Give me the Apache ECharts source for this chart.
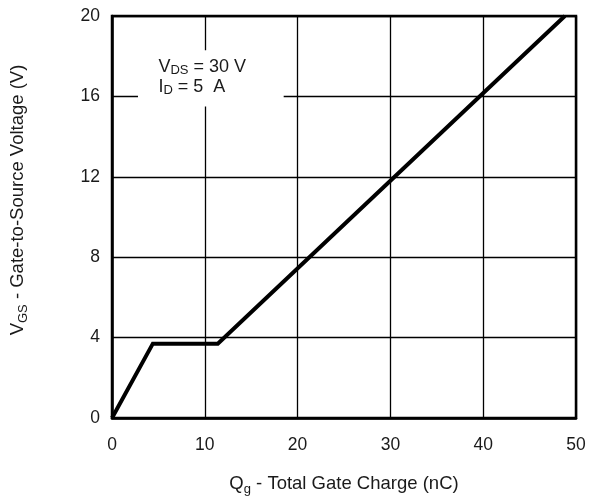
<!DOCTYPE html>
<html>
<head>
<meta charset="utf-8">
<script src="https://cdn.jsdelivr.net/npm/echarts@6/dist/echarts.min.js"></script>
<style>html,body{margin:0;padding:0;background:#fff;}#c{width:589px;height:499px;}</style>
</head>
<body>
<div id="c"></div>
<script>
// Data
const charge = [0, 4.4, 11.4, 48.8];       // Qg (nC)
const vgs    = [0, 3.7, 3.7, 20];          // VGS (V)
const xTicks = [0, 10, 20, 30, 40, 50];
const yTicks = [0, 4, 8, 12, 16, 20];
const noteLine1 = ['V', 'DS', ' = 30 V'];
const noteLine2 = ['I', 'D', ' = 5  A'];

const FONT = '"Liberation Sans", Arial, Helvetica, sans-serif';
const TXT = '#1a1a1a';

const chart = echarts.init(document.getElementById('c'), null, {renderer: 'canvas'});
const points = charge.map((q, i) => [q, vgs[i]]);

chart.setOption({
  animation: false,
  backgroundColor: '#fff',
  grid: {left: 112, right: 13, top: 16, bottom: 81, containLabel: false, outerBoundsMode: 'none',
         show: true, borderColor: '#000', borderWidth: 2.5, backgroundColor: 'transparent'},
  xAxis: {
    type: 'value', min: 0, max: 50, interval: 10,
    axisLine: {show: true, onZero: false, lineStyle: {color: '#000', width: 2.5}},
    axisTick: {show: false},
    splitLine: {show: true, lineStyle: {color: '#000', width: 1.3}},
    axisLabel: {margin: 18, color: TXT, fontSize: 17.5, fontFamily: FONT},
    name: '{a|Q}{s|g}{a| - Total Gate Charge (nC)}',
    nameLocation: 'middle', nameGap: 54,
    nameTextStyle: {
      rich: {
        a: {fontSize: 18.5, fontFamily: FONT, color: TXT, lineHeight: 24, verticalAlign: 'middle'},
        s: {fontSize: 13, fontFamily: FONT, color: TXT, lineHeight: 13, verticalAlign: 'bottom'}
      }
    }
  },
  yAxis: {
    type: 'value', min: 0, max: 20, interval: 4,
    axisLine: {show: true, onZero: false, lineStyle: {color: '#000', width: 2.5}},
    axisTick: {show: false},
    splitLine: {show: true, lineStyle: {color: '#000', width: 1.3}},
    axisLabel: {margin: 12, color: TXT, fontSize: 17.5, fontFamily: FONT},
    name: '{a|V}{s|GS}{a| - Gate-to-Source Voltage (V)}',
    nameLocation: 'middle', nameGap: 82, nameRotate: 90,
    nameTextStyle: {
      padding: [0, 0, 0, 34],
      rich: {
        a: {fontSize: 18.5, fontFamily: FONT, color: TXT, lineHeight: 24, verticalAlign: 'middle'},
        s: {fontSize: 13, fontFamily: FONT, color: TXT, lineHeight: 13, verticalAlign: 'bottom'}
      }
    }
  },
  series: [{
    type: 'line', data: points, showSymbol: false, symbol: 'none',
    lineStyle: {color: '#000', width: 4, join: 'miter'},
    z: 5
  }]
});

// Annotation box (white background hiding grid lines) positioned in data coordinates
const p1 = chart.convertToPixel({gridIndex: 0}, [2.8, 18.3]);
const p2 = chart.convertToPixel({gridIndex: 0}, [18.5, 15.5]);
const t = chart.convertToPixel({gridIndex: 0}, [5.0, 16.95]);
const mk = (arr) => '{a|' + arr[0] + '}{s|' + arr[1] + '}{a|' + arr[2] + '}';
chart.setOption({
  graphic: [
    {type: 'rect', shape: {x: p1[0], y: p1[1], width: p2[0] - p1[0], height: p2[1] - p1[1]}, style: {fill: '#fff'}, z: 3},
    {type: 'text', x: t[0], y: t[1], z: 4,
      style: {
        text: mk(noteLine1) + '\n' + mk(noteLine2),
        verticalAlign: 'middle', align: 'left',
        rich: {
          a: {fontSize: 18, fontFamily: FONT, fill: TXT, lineHeight: 20, verticalAlign: 'middle'},
          s: {fontSize: 13, fontFamily: FONT, fill: TXT, lineHeight: 10, verticalAlign: 'bottom'}
        }
      }
    }
  ]
});
</script>
</body>
</html>
